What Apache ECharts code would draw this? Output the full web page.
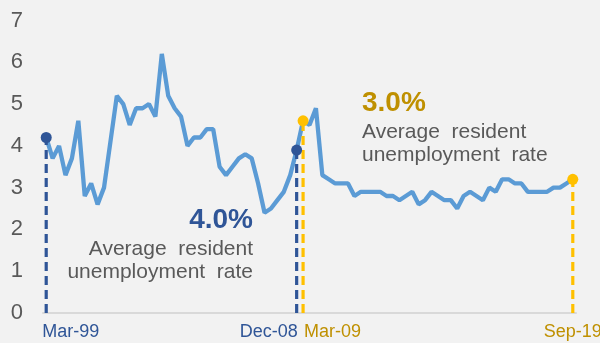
<!DOCTYPE html>
<html>
<head>
<meta charset="utf-8">
<script src="https://cdn.jsdelivr.net/npm/echarts@6/dist/echarts.min.js"></script>
<style>
html,body{margin:0;padding:0;background:#f2f2f2;}
#chart{width:600px;height:343px;}
</style>
</head>
<body>
<div id="chart"></div>
<script>
// Quarterly categories Mar-99 .. Sep-19
var months = ['Mar', 'Jun', 'Sep', 'Dec'];
var categories = [];
for (var y = 1999; y <= 2019; y++) {
  for (var q = 0; q < 4; q++) {
    if (y === 2019 && q > 2) break;
    categories.push(months[q] + '-' + String(y).slice(2));
  }
}

// Resident unemployment rate (%)
var values = [
  4.2, 3.7, 4.0, 3.3, 3.7, 4.6, 2.8, 3.1, 2.6, 3.0,
  4.1, 5.2, 5.0, 4.5, 4.9, 4.9, 5.0, 4.7, 6.2, 5.2,
  4.9, 4.7, 4.0, 4.2, 4.2, 4.4, 4.4, 3.5, 3.3, 3.5,
  3.7, 3.8, 3.7, 3.1, 2.4, 2.5, 2.7, 2.9, 3.3, 3.9,
  4.6, 4.5, 4.9, 3.3, 3.2, 3.1, 3.1, 3.1, 2.8, 2.9,
  2.9, 2.9, 2.9, 2.8, 2.8, 2.7, 2.8, 2.9, 2.6, 2.7,
  2.9, 2.8, 2.7, 2.7, 2.5, 2.8, 2.9, 2.8, 2.7, 3.0,
  2.9, 3.2, 3.2, 3.1, 3.1, 2.9, 2.9, 2.9, 2.9, 3.0,
  3.0, 3.1, 3.2
];

// Period markers (category labels)
var period1 = ['Mar-99', 'Dec-08'];
var period2 = ['Mar-09', 'Sep-19'];
var yTicks = [0, 1, 2, 3, 4, 5, 6, 7];

var idx = function (c) { return categories.indexOf(c); };

var BLUE = '#2f5597', YELLOW = '#ffc000', GOLD = '#bf9000', GRAY = '#595959';
var FONT = '"Liberation Sans", Arial, sans-serif';

function dashSeries(cat, color) {
  var i = idx(cat);
  return {
    type: 'line', data: [[i, 0], [i, values[i]]],
    showSymbol: false, silent: true, z: 3,
    lineStyle: { color: color, width: 3.2, type: [9, 5], opacity: 1 }
  };
}

var chart = echarts.init(document.getElementById('chart'), null, { renderer: 'canvas' });
chart.setOption({
  backgroundColor: '#f2f2f2',
  animation: false,
  grid: { left: 43, right: 24, top: 20.5, bottom: 30, containLabel: false },
  xAxis: {
    type: 'category', data: categories, boundaryGap: true,
    axisTick: { show: false }, axisLabel: { show: false },
    axisLine: { lineStyle: { color: '#d9d9d9', width: 2 } }
  },
  yAxis: {
    type: 'value', min: yTicks[0], max: yTicks[yTicks.length - 1], interval: 1,
    axisLine: { show: false }, axisTick: { show: false }, splitLine: { show: false },
    axisLabel: { color: GRAY, fontSize: 22, fontFamily: FONT, margin: 20 }
  },
  series: [
    {
      type: 'line', data: values, showSymbol: false, z: 2,
      lineStyle: { color: '#5b9bd5', width: 4.3 }
    },
    dashSeries(period1[0], BLUE),
    dashSeries(period1[1], BLUE),
    dashSeries(period2[0], YELLOW),
    dashSeries(period2[1], YELLOW),
    {
      type: 'scatter', symbolSize: 11, z: 4,
      itemStyle: { color: BLUE, opacity: 1 },
      data: period1.map(function (c) { return [idx(c), values[idx(c)]]; })
    },
    {
      type: 'scatter', symbolSize: 11, z: 4,
      itemStyle: { color: YELLOW, opacity: 1 },
      data: period2.map(function (c) { return [idx(c), values[idx(c)]]; })
    },
    {
      type: 'scatter', symbolSize: 0, silent: true, z: 5,
      itemStyle: { opacity: 1 },
      label: {
        show: true, position: 'inside', verticalAlign: 'middle',
        fontSize: 18, fontFamily: FONT,
        formatter: function (p) { return categories[p.value[0]]; }
      },
      data: [
        { value: [idx(period1[0]), 0], label: { color: BLUE, align: 'left', offset: [-4, 19] } },
        { value: [idx(period1[1]), 0], label: { color: BLUE, align: 'right', offset: [1, 19] } },
        { value: [idx(period2[0]), 0], label: { color: GOLD, align: 'left', offset: [1, 19] } },
        { value: [idx(period2[1]), 0], label: { color: GOLD, align: 'center', offset: [0, 19] } }
      ]
    }
  ],
  graphic: [
    { type: 'text', x: 253, y: 220, style: { text: '4.0%', fill: BLUE, font: 'bold 28px ' + FONT, textAlign: 'right', textVerticalAlign: 'middle' } },
    { type: 'text', x: 253, y: 249, style: { text: 'Average  resident', fill: GRAY, font: '21px ' + FONT, textAlign: 'right', textVerticalAlign: 'middle' } },
    { type: 'text', x: 253, y: 272, style: { text: 'unemployment  rate', fill: GRAY, font: '21px ' + FONT, textAlign: 'right', textVerticalAlign: 'middle' } },
    { type: 'text', x: 362, y: 103, style: { text: '3.0%', fill: GOLD, font: 'bold 28px ' + FONT, textAlign: 'left', textVerticalAlign: 'middle' } },
    { type: 'text', x: 362, y: 132, style: { text: 'Average  resident', fill: GRAY, font: '21px ' + FONT, textAlign: 'left', textVerticalAlign: 'middle' } },
    { type: 'text', x: 362, y: 155, style: { text: 'unemployment  rate', fill: GRAY, font: '21px ' + FONT, textAlign: 'left', textVerticalAlign: 'middle' } }
  ]
});
</script>
</body>
</html>
